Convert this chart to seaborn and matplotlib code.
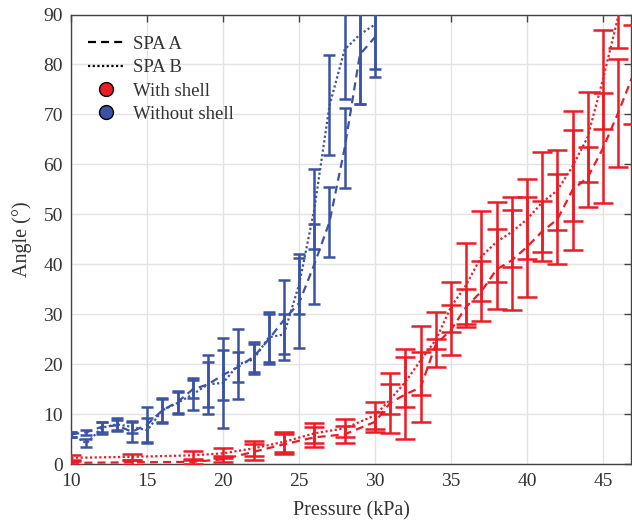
import pandas as pd
import matplotlib
matplotlib.use("Agg")
import matplotlib.pyplot as plt
import seaborn as sns
from matplotlib.lines import Line2D

# Without shell (blue), SPA A / SPA B
blue_x = list(range(10, 31))
blue_a_mean = [6.0, 6.4, 7.5, 7.8, 6.5, 8.0, 10.8, 12.5, 15.0, 16.0, 17.9, 19.5, 21.5, 25.0,
               28.9, 32.3, 40.0, 48.5, 63.3, 82.0, 85.5]
blue_a_err = [0.5, 0.5, 1.0, 1.0, 2.0, 3.5, 2.3, 2.2, 1.8, 4.5, 5.0, 3.0, 3.0, 5.0,
              8.0, 9.0, 8.0, 7.0, 8.0, 10.0, 6.5]
blue_b_mean = [6.0, 4.2, 7.3, 8.0, 7.5, 6.8, 10.8, 12.3, 14.0, 16.0, 16.3, 20.0, 21.0, 25.4,
               26.0, 36.0, 51.0, 71.8, 83.0, 86.0, 88.0]
blue_b_err = [0.5, 0.8, 1.2, 1.3, 1.2, 2.5, 2.5, 2.2, 3.2, 5.9, 9.0, 7.0, 3.0, 5.0,
              4.0, 6.0, 8.0, 10.0, 10.0, 14.0, 10.5]

# With shell (red), SPA A / SPA B
red_x = [10, 14, 18, 20, 22, 24, 26, 28, 30, 31, 32, 33, 34, 35, 36, 37, 38, 39, 40,
         41, 42, 43, 44, 45, 46, 47]
red_a_mean = [0.3, 0.4, 0.5, 1.0, 2.5, 4.0, 5.4, 6.0, 8.5, 12.3, 14.0, 15.4, 24.0, 26.9,
              31.5, 34.6, 39.0, 40.8, 43.5, 46.6, 49.0, 54.9, 57.4, 63.2, 70.3, 78.0]
red_a_err = [0.5, 0.5, 0.5, 0.6, 1.6, 2.0, 2.0, 1.7, 2.0, 6.0, 9.0, 7.0, 1.0, 5.0,
             3.5, 6.0, 8.0, 10.0, 10.0, 6.0, 9.0, 12.0, 6.0, 11.0, 10.8, 10.0]
red_b_mean = [1.3, 1.5, 1.8, 2.2, 3.2, 4.5, 6.2, 7.2, 9.8, 13.0, 16.5, 20.8, 24.9, 31.5,
              35.9, 41.6, 44.5, 46.5, 49.0, 52.4, 54.8, 59.6, 65.5, 77.0, 89.5, 105.0]
red_b_err = [0.6, 0.6, 0.9, 1.0, 1.5, 2.0, 2.0, 1.8, 2.7, 3.0, 5.0, 6.9, 5.5, 5.0,
             8.4, 9.0, 8.0, 7.0, 8.0, 10.0, 8.0, 11.0, 9.0, 10.0, 6.2, 12.0]

RED = '#ec1c24'
BLUE = '#3a53a4'
TXT = '#333333'

sns.set_theme(style='white')
plt.rcParams['font.family'] = ['Liberation Serif', 'DejaVu Serif']

series = [
    ('Without shell', 'SPA A', blue_x, blue_a_mean, blue_a_err),
    ('Without shell', 'SPA B', blue_x, blue_b_mean, blue_b_err),
    ('With shell', 'SPA A', red_x, red_a_mean, red_a_err),
    ('With shell', 'SPA B', red_x, red_b_mean, red_b_err),
]
rows = []
for shell, spa, xs, ms, es in series:
    for x, m, e in zip(xs, ms, es):
        rows.append({'pressure': x, 'angle': m, 'err': e, 'shell': shell, 'spa': spa})
df = pd.DataFrame(rows)

fig = plt.figure(figsize=(6.32, 5.22), dpi=100)
ax = fig.add_axes([0.1128, 0.1105, 0.8856, 0.8617])

palette = {'With shell': RED, 'Without shell': BLUE}
sns.lineplot(data=df, x='pressure', y='angle', hue='shell', style='spa',
             palette=palette, dashes={'SPA A': (3.6, 2.3), 'SPA B': (1, 1.1)},
             linewidth=1.6, legend=False, ax=ax, sort=True, estimator=None)

# error bars per series
for (shell, spa), g in df.groupby(['shell', 'spa']):
    col = palette[shell]
    cap = 4.5 if shell == 'Without shell' else 7
    ax.errorbar(g['pressure'], g['angle'], yerr=g['err'], fmt='none', ecolor=col,
                elinewidth=1.8, capsize=cap, capthick=1.8, zorder=3)

ax.set_xlim(10, 46.85)
ax.set_ylim(0, 90)
ax.set_xticks(range(10, 46, 5))
ax.set_yticks(range(0, 91, 10))
ax.grid(True, color='#e3e3e3', linewidth=1)
ax.set_axisbelow(True)
ax.tick_params(direction='in', length=5, width=1, colors='#444444', labelcolor=TXT,
               labelsize=14, top=True, right=True, pad=6)
for s in ax.spines.values():
    s.set_color('#444444')
    s.set_linewidth(1)
ax.set_xlabel('Pressure (kPa)', fontsize=14.5, color=TXT, labelpad=8)
ax.set_ylabel('Angle (°)', fontsize=14.5, color=TXT, labelpad=8)

handles = [
    Line2D([], [], color='black', linestyle=(0, (3.6, 2.3)), linewidth=1.6),
    Line2D([], [], color='black', linestyle=(0, (1, 1.1)), linewidth=1.6),
    Line2D([], [], color='none', marker='o', markersize=10, markerfacecolor=RED,
           markeredgecolor='black', markeredgewidth=1),
    Line2D([], [], color='none', marker='o', markersize=10, markerfacecolor=BLUE,
           markeredgecolor='black', markeredgewidth=1),
]
labels = ['SPA A', 'SPA B', 'With shell', 'Without shell']
leg = ax.legend(handles, labels, loc='upper left', bbox_to_anchor=(0.0, 0.99),
                frameon=False, fontsize=13.5, handlelength=1.9, handletextpad=0.5,
                labelspacing=0.33, borderaxespad=0.5)
for t in leg.get_texts():
    t.set_color(TXT)

fig.savefig('out.png', dpi=100)
